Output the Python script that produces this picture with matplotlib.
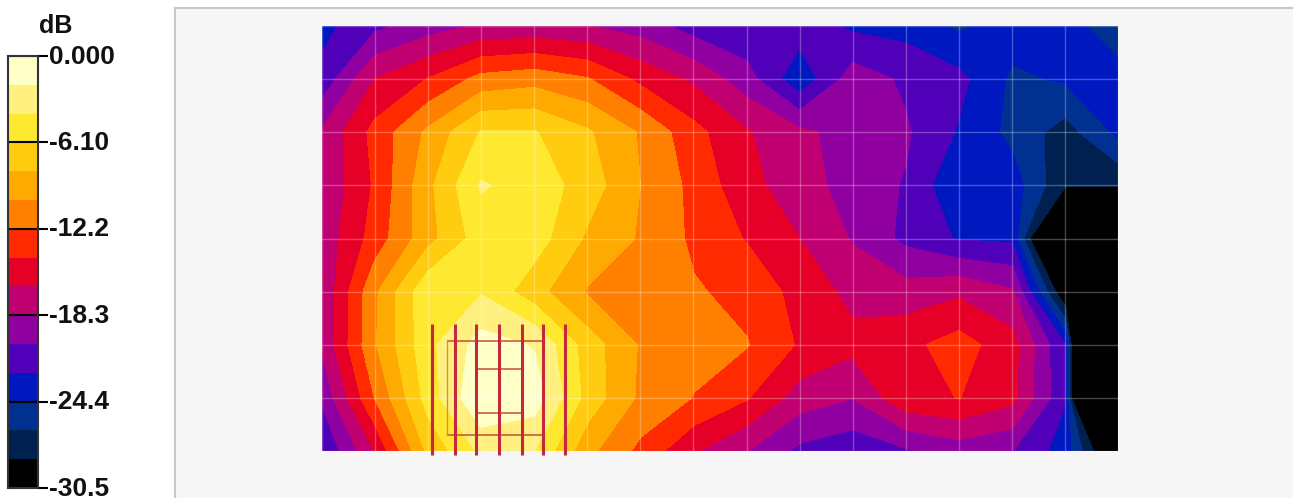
import numpy as np
import matplotlib
matplotlib.use("Agg")
import matplotlib.pyplot as plt
from matplotlib.colors import ListedColormap
from matplotlib.transforms import ScaledTranslation

W, H = 1293, 498

# dB measured on the 16 x 9 grid, top row first
DB = [
    [-23.0, -20.9, -19.3, -18.1, -17.9, -18.3, -19.3, -21.3, -22.0, -21.3, -22.8, -23.2, -24.8, -23.4, -23.4, -26.0],
    [-21.8, -16.3, -14.2, -11.6, -11.0, -12.1, -14.8, -16.7, -19.5, -24.0, -19.3, -20.7, -21.8, -24.8, -24.2, -23.4],
    [-18.1, -13.6, -9.8, -6.0, -6.0, -7.9, -10.4, -13.6, -16.1, -17.9, -19.1, -20.1, -22.6, -25.0, -27.4, -24.0],
    [-18.1, -14.0, -8.7, -3.9, -4.9, -7.1, -10.2, -12.8, -15.7, -17.3, -19.3, -20.5, -24.4, -23.4, -28.3, -28.3],
    [-17.7, -13.4, -8.9, -5.1, -5.1, -8.5, -10.4, -12.6, -14.4, -16.3, -18.5, -20.9, -22.6, -22.8, -40.3, -81.0],
    [-18.1, -10.6, -4.5, -4.3, -7.4, -10.4, -11.2, -12.0, -12.8, -15.0, -16.9, -17.5, -16.7, -18.1, -30.9, -81.0],
    [-18.1, -10.4, -4.7, -1.2, -2.2, -7.1, -10.4, -11.4, -12.1, -14.5, -15.7, -14.8, -13.4, -15.5, -22.4, -81.0],
    [-20.1, -12.2, -5.3, -0.1, -1.0, -6.9, -10.6, -12.3, -14.1, -17.3, -18.3, -14.8, -14.2, -15.7, -22.2, -81.0],
    [-22.4, -16.3, -7.7, -3.7, -4.1, -9.6, -12.8, -16.1, -18.3, -20.9, -21.8, -20.7, -19.5, -20.3, -23.4, -33.1],
]

# colour bands, bottom of the scale first
BAND_COLORS = ["#000000", "#00204F", "#003090", "#0018C0", "#5000B8",
               "#9000A0", "#C00070", "#E60028", "#FF2A00", "#FF7F00",
               "#FFAA00", "#FFCC10", "#FFE830", "#FFF080", "#FFFFC8"]
TICK_VALUES = [-30.5, -24.4, -18.3, -12.2, -6.10, 0.0]
TICK_LABELS = ["-30.5", "-24.4", "-18.3", "-12.2", "-6.10", "0.000"]

# antenna sketched over the map, in grid cells (x right, y down from the top)
ELEMENT_X = [2.08, 2.50, 2.91, 3.34, 3.76, 4.17, 4.58]
ELEMENT_TOP, ELEMENT_BOTTOM = 5.60, 8.08
FRAME_X = [2.36, 2.36]
FRAME_Y = [5.92, 7.70]
BAR_Y = [5.92, 6.45, 7.28, 7.70]
BAR_LEFT = [2.36, 2.91, 2.91, 2.36]
BAR_RIGHT = [4.17, 3.76, 3.76, 4.17]


def px_axes(fig, left, top, right, bottom, **kw):
    return fig.add_axes([left / W, 1 - bottom / H, (right - left) / W, (bottom - top) / H], **kw)


def main():
    plt.rcParams["font.family"] = ["Liberation Sans", "DejaVu Sans"]
    fig = plt.figure(figsize=(W / 100, H / 100), dpi=100, facecolor="white")

    # grey panel behind the map
    panel = px_axes(fig, 175, 8, W + 2, H + 2, facecolor="#F6F6F6")
    panel.set_xticks([]); panel.set_yticks([])
    for side in ["right", "bottom"]:
        panel.spines[side].set_visible(False)
    for side in ["left", "top"]:
        panel.spines[side].set_color("#C8C8C8")
        panel.spines[side].set_linewidth(1.5)

    levels = np.linspace(-30.5, 0, 16)
    cmap = ListedColormap(BAND_COLORS)
    cmap.set_under("#000000")

    z = np.array(DB)
    ax = px_axes(fig, 322, 26, 1118, 451)
    cf = ax.contourf(np.arange(z.shape[1]), np.arange(z.shape[0]), z,
                     levels=levels, cmap=cmap, extend="min")
    cf.set_edgecolor("face")
    ax.set_xlim(0, z.shape[1] - 1)
    ax.set_ylim(z.shape[0] - 1, 0)
    ax.set_xticks(np.arange(z.shape[1]))
    ax.set_yticks(np.arange(z.shape[0]))
    ax.tick_params(length=0, labelbottom=False, labelleft=False)
    ax.grid(color="white", lw=1.0, alpha=0.28)
    ax.set_axisbelow(False)
    for s in ax.spines.values():
        s.set_visible(False)

    # antenna
    ax.vlines(ELEMENT_X, ELEMENT_TOP, ELEMENT_BOTTOM, color="#C4283C", lw=2.2, clip_on=False, zorder=5)
    ax.hlines(BAR_Y, BAR_LEFT, BAR_RIGHT, color="#CC5A3C", lw=1.2, clip_on=False, zorder=4)
    ax.plot(FRAME_X, FRAME_Y, color="#D9903C", lw=1.0, zorder=4)

    # colour scale
    cax = px_axes(fig, 8, 56, 38, 488)
    cax.pcolormesh([0, 1], levels, np.arange(15).reshape(-1, 1), cmap=cmap, vmin=-0.5, vmax=14.5)
    cax.set_xticks([])
    cax.yaxis.tick_right()
    cax.set_yticks(TICK_VALUES)
    cax.set_yticklabels(TICK_LABELS, fontsize=19, fontweight="bold", color="#111111")
    cax.tick_params(axis="y", length=7, width=1.5, color="black", pad=1)
    cax.set_ylim(-30.5, 0)
    # labels sit a little above their ticks, which also keeps -30.5 inside the picture
    nudge = ScaledTranslation(0, 2 / 100, fig.dpi_scale_trans)
    for lab in cax.get_yticklabels():
        lab.set_transform(lab.get_transform() + nudge)
    for s in cax.spines.values():
        s.set_edgecolor("#333333")
        s.set_linewidth(1.5)
    cax.hlines(TICK_VALUES[1:], 0, 1, color="black", lw=1.5)
    fig.text(56 / W, 1 - 26 / H, "dB", fontsize=18, fontweight="bold", ha="center", va="center", color="#111111")

    fig.savefig("out.png", dpi=100)


if __name__ == "__main__":
    main()
